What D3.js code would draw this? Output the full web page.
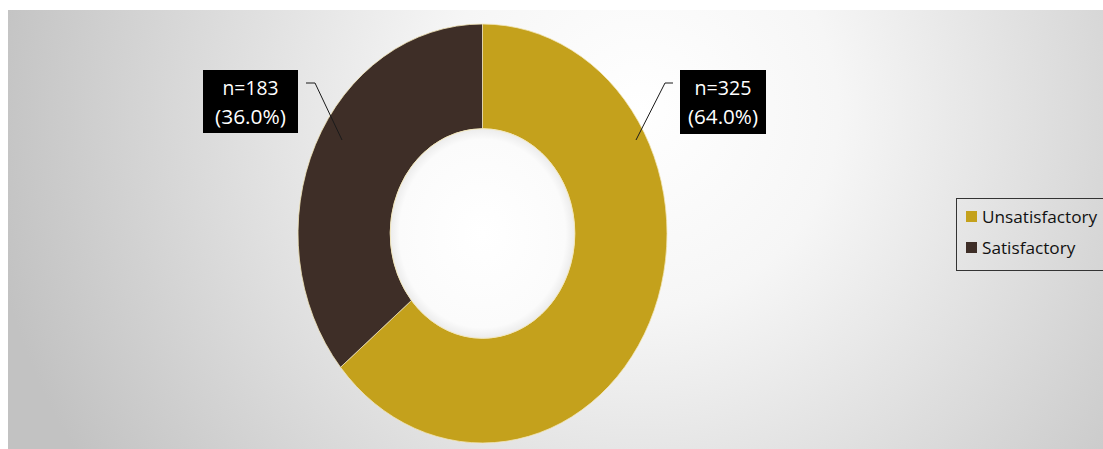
<!DOCTYPE html>
<html><head><meta charset="utf-8">
<script src="https://cdn.jsdelivr.net/npm/d3@7"></script>
<style>html,body{margin:0;padding:0;background:#fff;}svg{display:block;}</style>
</head><body>
<svg id="chart" width="1103" height="449"></svg>
<script>
const categories = ["Unsatisfactory", "Satisfactory"];
const counts = [325, 183];
const percentLabels = ["64.0%", "36.0%"];
const colors = ["#C4A11C", "#3E2E27"];

const svg = d3.select("#chart");
const defs = svg.append("defs");

const bg = defs.append("radialGradient").attr("id", "bg")
  .attr("gradientUnits", "userSpaceOnUse")
  .attr("cx", 640).attr("cy", 110).attr("r", 660);
bg.append("stop").attr("offset", "0").attr("stop-color", "#ffffff");
bg.append("stop").attr("offset", "0.3").attr("stop-color", "#f6f6f6");
bg.append("stop").attr("offset", "1").attr("stop-color", "#c2c2c2");

const hole = defs.append("radialGradient").attr("id", "hole");
hole.append("stop").attr("offset", "0").attr("stop-color", "#ffffff");
hole.append("stop").attr("offset", "0.9").attr("stop-color", "#fbfbfb");
hole.append("stop").attr("offset", "1").attr("stop-color", "#ececec");

svg.append("rect").attr("x", 8).attr("y", 10).attr("width", 1095).attr("height", 439)
  .attr("fill", "url(#bg)");

const cx = 482.5, cy = 233.5, rx = 184.5, ry = 209.5;
const inner = 0.5;

const pie = d3.pie().sort(null).value(d => d)(counts);
const arc = d3.arc().innerRadius(rx * inner).outerRadius(rx);

const g = svg.append("g").attr("transform", `translate(${cx},${cy}) scale(1,${ry / rx})`);
g.selectAll("path.slice").data(pie).join("path")
  .attr("class", "slice")
  .attr("d", arc)
  .attr("fill", (d, i) => colors[i])
  .attr("stroke", "#f3e6b8")
  .attr("stroke-width", 0.8)
  .attr("vector-effect", "non-scaling-stroke");
g.append("circle").attr("r", rx * inner).attr("fill", "url(#hole)")
  .attr("stroke", "#f3e6b8").attr("stroke-width", 0.8).attr("vector-effect", "non-scaling-stroke");

// Labels
const font = "'Open Sans', 'Noto Sans', sans-serif";
const labelBoxes = [
  { x: 680, y: 70, w: 86, h: 64, tw: [57, 70], line: [[673, 83], [665, 83], [636, 140]] },
  { x: 203, y: 70, w: 95, h: 63, tw: [56, 71], line: [[306, 83], [315, 83], [342, 140]] }
];
pie.forEach((d, i) => {
  const b = labelBoxes[i];
  svg.append("polyline").attr("points", b.line.map(p => p.join(",")).join(" "))
    .attr("fill", "none").attr("stroke", "#1a1a1a").attr("stroke-width", 1);
  svg.append("rect").attr("x", b.x).attr("y", b.y).attr("width", b.w).attr("height", b.h)
    .attr("fill", "#000");
  const lines = ["n=" + counts[i], "(" + percentLabels[i] + ")"];
  lines.forEach((s, k) => {
    svg.append("text").attr("fill", "#fff").attr("font-family", font)
      .attr("font-size", 20).attr("text-anchor", "middle")
      .attr("x", b.x + b.w / 2).attr("y", b.y + 25 + k * 29)
      .attr("textLength", b.tw[k]).attr("lengthAdjust", "spacingAndGlyphs")
      .text(s);
  });
});

// Legend
const leg = svg.append("g");
leg.append("rect").attr("x", 956.5).attr("y", 198.5).attr("width", 160).attr("height", 72)
  .attr("fill", "none").attr("stroke", "#333").attr("stroke-width", 1);
categories.forEach((c, i) => {
  const y = 223 + i * 31;
  leg.append("rect").attr("x", 966).attr("y", y - 12).attr("width", 11).attr("height", 11)
    .attr("fill", colors[i]);
  leg.append("text").attr("x", 982).attr("y", y).attr("font-family", font)
    .attr("font-size", 17.2).attr("fill", "#111")
    .text(c);
});
</script>
</body></html>
